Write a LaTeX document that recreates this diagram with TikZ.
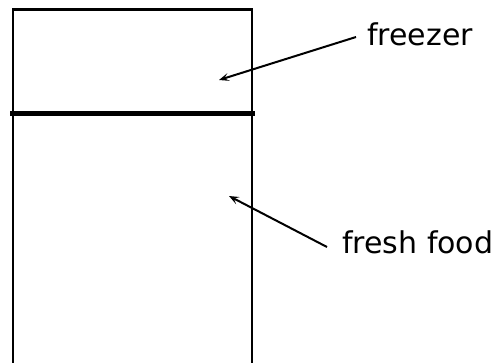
\documentclass[tikz,border=0pt]{standalone}
\usepackage{fontspec}
\setmainfont{DejaVu Sans}
\usetikzlibrary{arrows.meta}
\begin{document}
\begin{tikzpicture}[x=1pt,y=-1pt,
  wall/.style={line width=2.4pt,line cap=rect},
  shelf/.style={line width=5pt},
  arr/.style={line width=2pt,-{Stealth[length=10pt,width=8pt,inset=4.5pt]}},
  lbl/.style={font=\fontsize{30}{33}\selectfont,inner sep=0pt,anchor=base west}]
\useasboundingbox (0,0) rectangle (502,362);
\draw[wall] (12.7,364) -- (12.7,9.3) -- (252,9.3) -- (252,364);
\draw[shelf] (10,113) coordinate (s1) -- (255,113) coordinate (s2);
\node[lbl] (fz) at (367,45) {freezer};
\node[lbl] (ff) at (342,253) {fresh food};
\coordinate (t1) at (219,80);
\coordinate (t2) at (229,196);
\draw[arr] ([xshift=-11pt,yshift=8pt]fz.base west) -- (t1);
\draw[arr] ([xshift=-15pt,yshift=6pt]ff.base west) -- (t2);
\end{tikzpicture}
\end{document}
